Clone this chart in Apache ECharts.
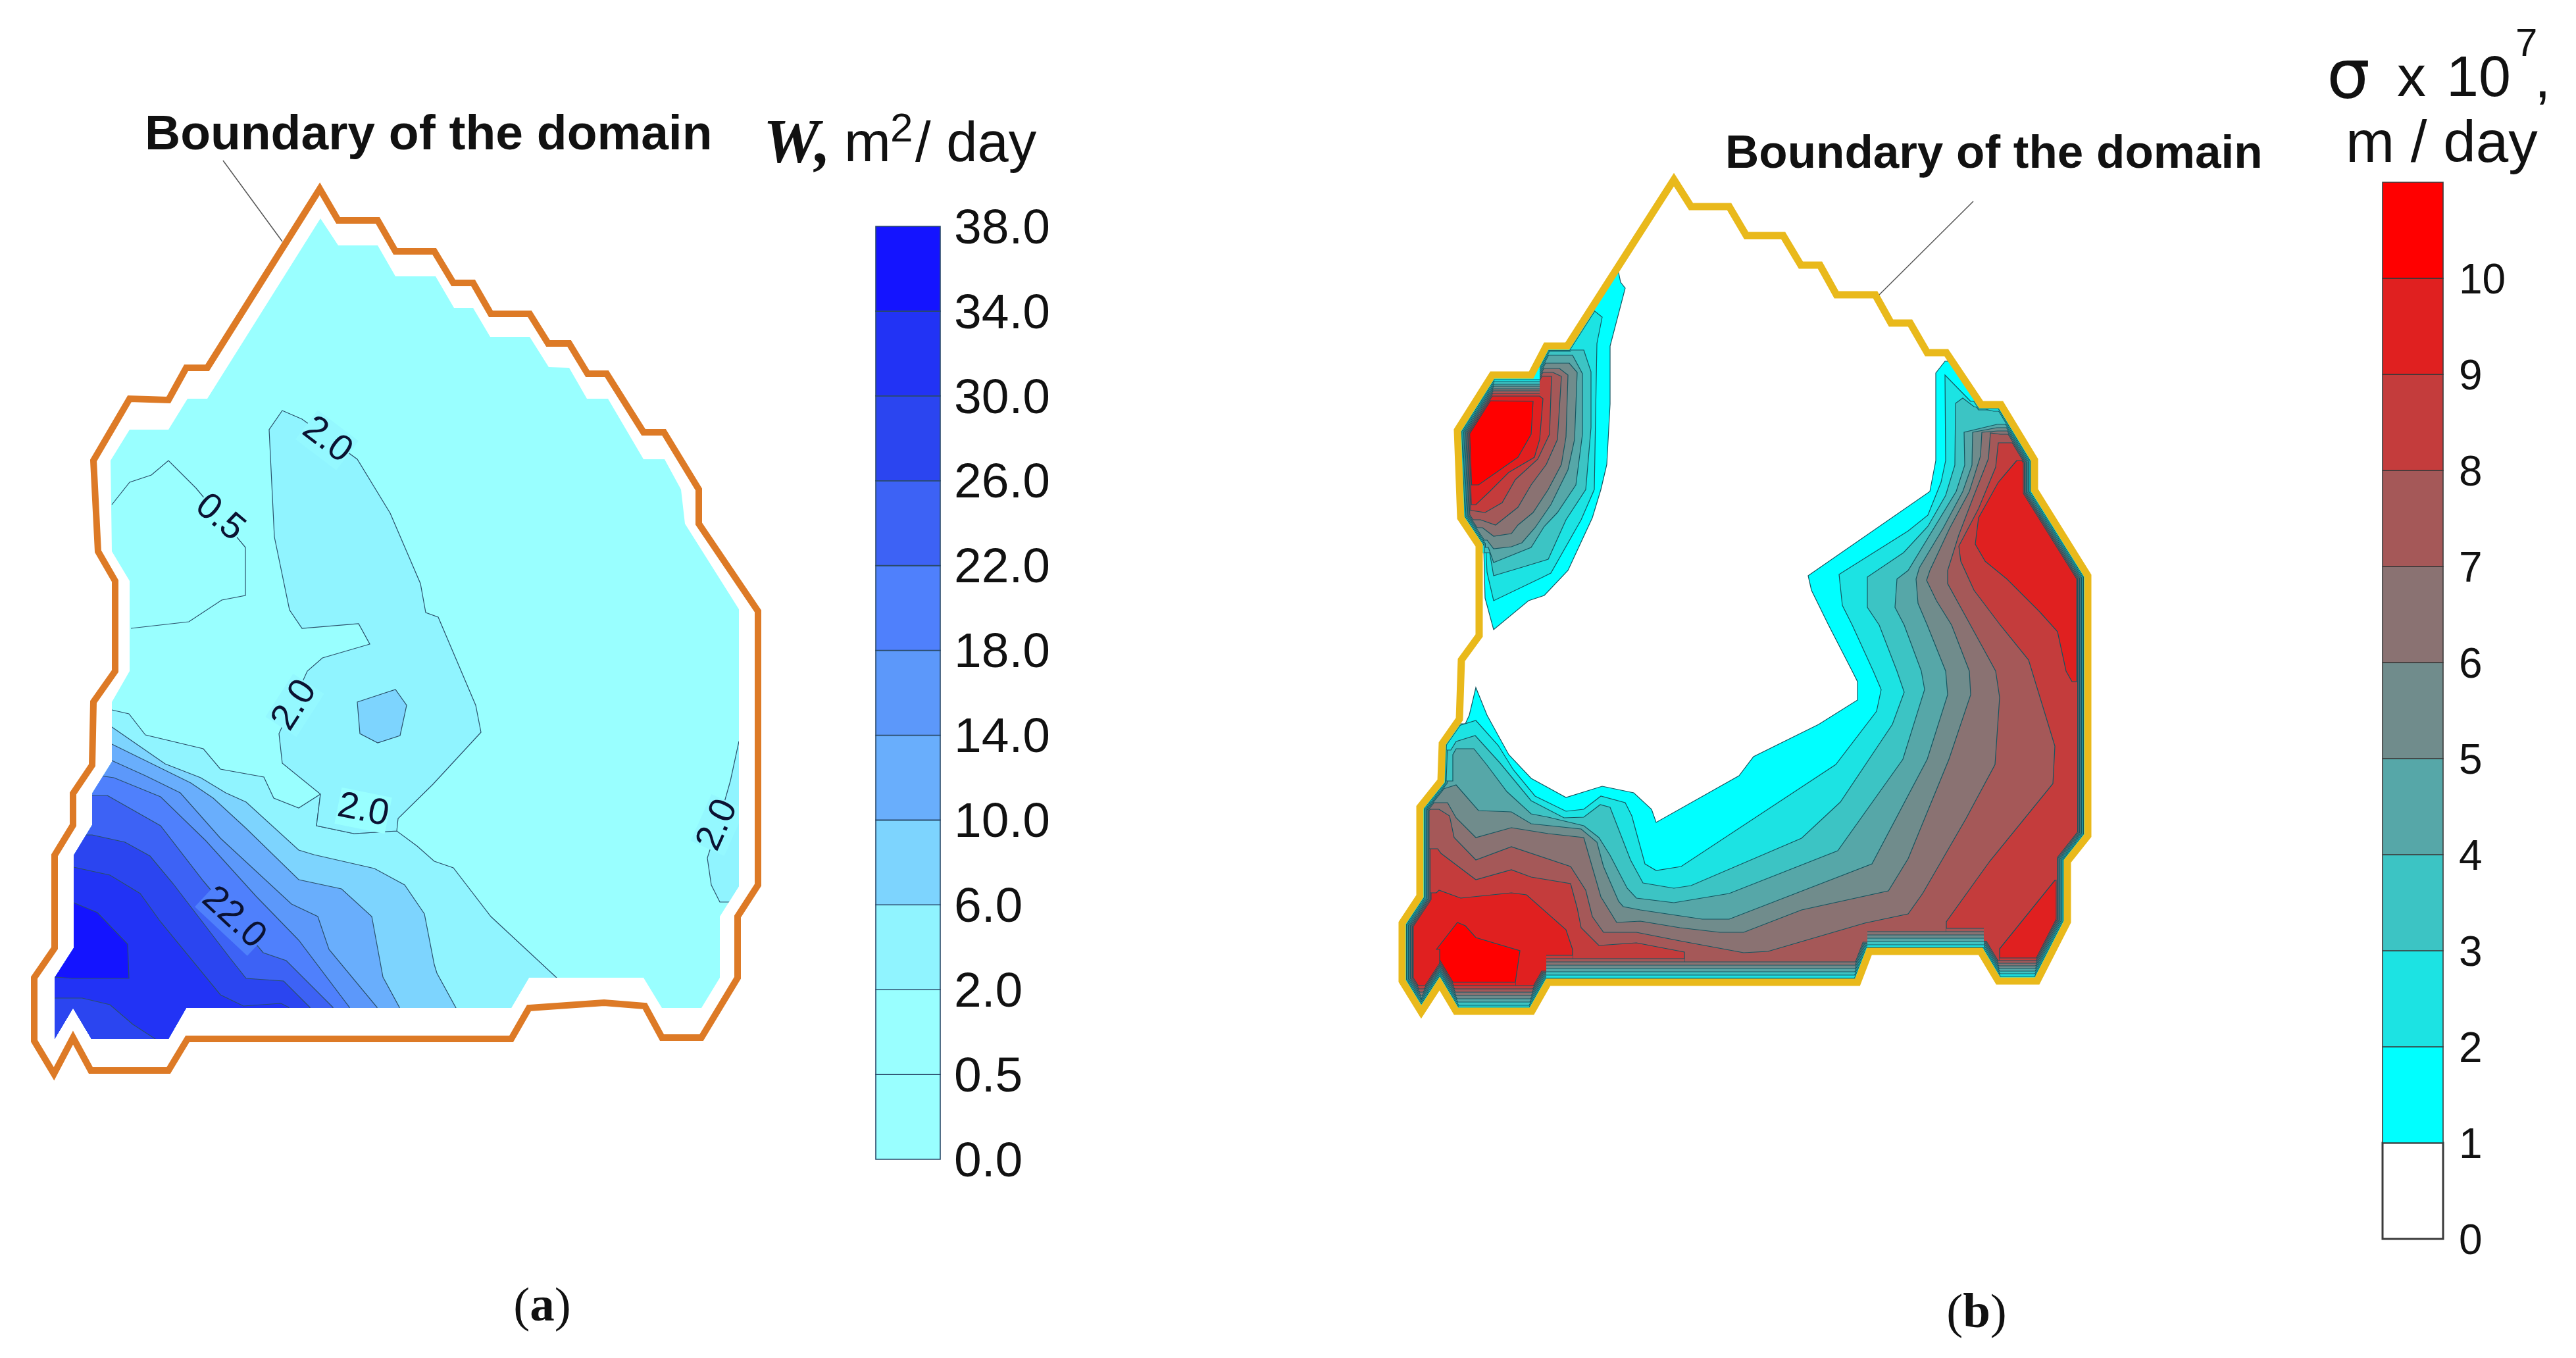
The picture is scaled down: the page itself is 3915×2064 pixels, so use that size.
<!DOCTYPE html>
<html>
<head>
<meta charset="utf-8">
<style>
  html, body { margin: 0; padding: 0; background: #fff; }
  #chart { width: 3915px; height: 2064px; }
</style>
<script src="https://cdn.jsdelivr.net/npm/echarts@6/dist/echarts.min.js"></script>
</head>
<body>
<div id="chart"></div>
<script>

// (a) transmissivity W
const wTicks = ['0.0', '0.5', '2.0', '6.0', '10.0', '14.0', '18.0', '22.0', '26.0', '30.0', '34.0', '38.0']
const wColors = ['#99ffff', '#99ffff', '#90f4ff', '#7dd4fe', '#69aefc', '#5c98fa', '#4f80fc', '#3d62f5', '#2b45f0', '#2233f5', '#1414ff']

const wBoundary = [[486,287],[514,335],[574,335],[601,382],[660,382],[689,430],[719,430],[746,477],[805,477],[833,522],[865,522],[893,568],[922,568],[978,657],[1009,657],[1062,744],[1062,796],[1152,929],[1152,1345],[1121,1393],[1121,1486],[1066,1577],[1006,1577],[980,1529],[918,1524],[804,1532],[777,1579],[285,1579],[256,1627],[138,1627],[111,1577],[82,1632],[52,1582],[52,1486],[83,1441],[83,1300],[111,1254],[111,1206],[140,1163],[142,1067],[175,1020],[175,883],[149,838],[142,700],[197,606],[256,608],[283,559],[315,559]]
const wDomain = [[487,332],[514,373],[574,373],[601,420],[662,420],[690,468],[719,468],[745,512],[805,512],[834,558],[865,559],[892,606],[924,606],[978,698],[1010,698],[1035,744],[1041,796],[1123,926],[1123,1347],[1094,1393],[1094,1486],[1066,1532],[1006,1532],[978,1486],[804,1486],[777,1532],[283,1532],[256,1579],[139,1579],[111,1532],[83,1579],[83,1486],[112,1441],[112,1300],[140,1254],[140,1206],[170,1158],[170,1067],[197,1020],[197,883],[170,838],[168,700],[197,653],[256,653],[285,606],[315,606]]

const wLevel2South = [[170,1079],[196,1085],[221,1117],[309,1138],[335,1169],[401,1181],[416,1213],[454,1228],[487,1207],[481,1255],[538,1267],[603,1263],[634,1286],[660,1309],[689,1319],[746,1393],[846,1486],[846,1700],[0,1700],[0,1079]]
const wLevel2North = [[429,624],[459,637],[543,698],[593,780],[639,887],[647,931],[666,938],[723,1072],[731,1113],[658,1192],[605,1244],[603,1263],[538,1267],[481,1255],[487,1207],[429,1160],[424,1115],[467,1020],[490,1000],[562,979],[545,948],[459,955],[440,927],[417,816],[409,653]]
const wLevel2East = [[1123,1127],[1110,1187],[1091,1254],[1075,1304],[1081,1345],[1094,1371],[1200,1371],[1200,1127]]
const wLevel6Core = [[543,1067],[601,1048],[618,1072],[608,1118],[574,1129],[547,1115]]
const wLevel6 = [[170,1105],[251,1161],[305,1182],[343,1205],[374,1219],[454,1292],[477,1299],[569,1320],[615,1345],[645,1389],[660,1466],[664,1479],[693,1532],[693,1700],[0,1700],[0,1105]]
const wLevel10 = [[170,1131],[221,1156],[290,1190],[324,1213],[374,1259],[454,1337],[519,1351],[565,1393],[582,1485],[607,1531],[607,1700],[0,1700],[0,1131]]
const wLevel14 = [[170,1156],[221,1179],[274,1205],[335,1274],[443,1374],[483,1393],[500,1443],[573,1531],[573,1700],[0,1700],[0,1156]]
const wLevel18 = [[152,1179],[173,1182],[244,1211],[313,1278],[389,1362],[454,1429],[531,1531],[531,1700],[0,1700],[0,1179]]
const wLevel22 = [[163,1209],[244,1255],[309,1339],[400,1448],[435,1460],[506,1531],[506,1700],[0,1700],[0,1209]]
const wLevel26 = [[140,1269],[190,1280],[228,1301],[263,1343],[351,1458],[374,1487],[431,1491],[471,1531],[471,1700],[0,1700],[0,1269]]
const wLevel30 = [[112,1318],[167,1330],[213,1358],[244,1401],[335,1512],[370,1529],[427,1525],[439,1531],[439,1700],[0,1700],[0,1318]]
const wLevel34 = [[112,1372],[148,1387],[194,1435],[196,1487],[110,1487],[83,1485],[0,1485],[0,1372]]
const wPocket26 = [[83,1517],[125,1517],[167,1527],[202,1557],[236,1579],[236,1700],[0,1700],[0,1517]]
const wContour05 = [[170,767],[197,733],[230,722],[256,700],[298,742],[373,832],[373,905],[337,912],[287,945],[199,955]]
const wLeader = [[339,244],[429,367]]

const wLabelTexts = ['2.0', '0.5', '2.0', '2.0', '22.0', '2.0']
const wLabelSpots = [[497,669],[334,787],[448,1072],[552,1232],[355,1395],[1091,1254]]
const wLabelAngles = [-0.65, -0.7, 1.0, -0.2, -0.75, 1.15]
const wLabelBacks = ['#94f8ff', '#99ffff', '#94f8ff', '#99ffff', '#4f80fc', '#94f8ff']

// (b) leakage sigma
const sTicks = ['0', '1', '2', '3', '4', '5', '6', '7', '8', '9', '10', '']
const sColors = ['#ffffff', '#00ffff', '#1ce3e3', '#3cc4c4', '#56a7a8', '#708c8c', '#8a7272', '#a55858', '#c43c3c', '#e02020', '#ff0000']

const sBoundary = [[2544,273],[2570,314],[2628,314],[2654,358],[2710,358],[2737,403],[2766,403],[2791,448],[2850,448],[2874,491],[2903,491],[2929,536],[2958,536],[3011,615],[3041,615],[3092,699],[3092,745],[3173,875],[3173,1270],[3142,1309],[3142,1401],[3096,1491],[3037,1491],[3010,1446],[2841,1446],[2823,1493],[2353,1493],[2328,1537],[2213,1537],[2188,1495],[2160,1538],[2131,1491],[2131,1403],[2158,1362],[2158,1227],[2190,1187],[2192,1130],[2218,1093],[2221,1003],[2248,966],[2248,829],[2220,787],[2215,654],[2268,570],[2327,570],[2350,526],[2382,526]]

const nwLevel1 = [[2463,429],[2470,438],[2447,526],[2447,614],[2442,706],[2433,744],[2420,787],[2383,867],[2347,905],[2323,913],[2270,957],[2257,909],[2255,832],[2100,832],[2100,390],[2455,390]]
const nwLevel2 = [[2435,482],[2427,522],[2425,630],[2423,744],[2403,790],[2357,871],[2343,878],[2270,913],[2260,870],[2258,829],[2100,829],[2100,470],[2420,470]]
const nwLevel3 = [[2407,532],[2418,565],[2418,650],[2410,744],[2380,790],[2353,850],[2317,861],[2270,875],[2264,840],[2100,840],[2100,532]]
const nwLevel4 = [[2390,540],[2405,568],[2405,660],[2395,737],[2367,779],[2347,800],[2327,832],[2270,855],[2262,832],[2100,832],[2100,540]]
const nwLevel5 = [[2397,566],[2393,668],[2383,714],[2357,767],[2333,802],[2313,825],[2297,831],[2270,834],[2260,821],[2100,821],[2100,552],[2385,552]]
const nwLevel6 = [[2383,570],[2380,664],[2373,706],[2353,744],[2330,779],[2307,798],[2297,811],[2270,815],[2253,802],[2100,802],[2100,560],[2370,560]]
const nwLevel7 = [[2373,572],[2367,668],[2350,706],[2327,737],[2307,771],[2273,798],[2250,790],[2100,790],[2100,566],[2360,566]]
const nwLevel8 = [[2358,572],[2355,660],[2337,698],[2303,729],[2283,764],[2257,779],[2230,775],[2100,775],[2100,570]]
const nwLevel9 = [[2345,606],[2340,668],[2332,695],[2293,718],[2263,748],[2243,767],[2100,767],[2100,602],[2340,602]]
const nwLevel10 = [[2330,610],[2327,660],[2307,695],[2247,737],[2100,737],[2100,607]]

const mainLevel1 = [[2956,549],[2942,567],[2942,700],[2933,747],[2748,875],[2753,897],[2779,950],[2815,1020],[2823,1036],[2823,1064],[2764,1101],[2665,1150],[2643,1179],[2517,1250],[2510,1230],[2483,1205],[2435,1195],[2380,1212],[2327,1183],[2293,1147],[2260,1087],[2243,1045],[2233,1087],[2227,1100],[2100,1100],[2100,1650],[3300,1650],[3300,549]]
const mainLevel2 = [[2995,610],[2956,570],[2957,700],[2950,733],[2930,783],[2900,807],[2795,873],[2800,920],[2815,950],[2847,1020],[2859,1048],[2852,1081],[2790,1162],[2555,1317],[2517,1323],[2500,1313],[2480,1240],[2470,1220],[2433,1210],[2407,1230],[2380,1233],[2333,1210],[2300,1170],[2277,1133],[2243,1095],[2217,1103],[2210,1110],[2100,1110],[2100,1650],[3300,1650],[3300,610]]
const mainLevel3 = [[3030,625],[3000,618],[2983,605],[2972,613],[2971,707],[2957,753],[2930,800],[2893,840],[2838,877],[2838,923],[2856,950],[2883,1020],[2894,1052],[2876,1101],[2797,1219],[2738,1274],[2570,1346],[2544,1350],[2497,1342],[2478,1307],[2447,1227],[2432,1223],[2407,1242],[2377,1243],[2327,1217],[2280,1160],[2242,1118],[2213,1127],[2205,1140],[2100,1140],[2100,1650],[3300,1650],[3300,625]]
const mainLevel4 = [[3035,645],[2985,657],[2986,707],[2973,747],[2900,867],[2883,880],[2880,923],[2894,950],[2920,1020],[2925,1048],[2892,1154],[2793,1293],[2628,1358],[2544,1372],[2487,1365],[2473,1350],[2447,1300],[2430,1273],[2407,1255],[2353,1242],[2327,1237],[2290,1203],[2260,1163],[2240,1138],[2213,1138],[2208,1147],[2208,1187],[2100,1187],[2100,1650],[3300,1650],[3300,645]]
const mainLevel5 = [[3035,650],[2998,657],[2997,707],[2983,747],[2953,803],[2917,863],[2912,880],[2915,917],[2929,950],[2957,1020],[2960,1056],[2929,1154],[2845,1313],[2628,1397],[2587,1397],[2493,1383],[2467,1378],[2460,1370],[2437,1317],[2427,1280],[2403,1260],[2327,1252],[2297,1234],[2247,1232],[2213,1193],[2197,1198],[2100,1198],[2100,1650],[3300,1650],[3300,650]]
const mainLevel6 = [[3036,655],[3012,657],[3010,693],[2993,747],[2963,803],[2933,867],[2928,882],[2943,913],[2966,950],[2993,1020],[2995,1056],[2962,1154],[2900,1305],[2870,1354],[2738,1383],[2650,1417],[2614,1417],[2553,1410],[2493,1400],[2457,1402],[2433,1363],[2407,1273],[2353,1267],[2297,1258],[2243,1273],[2213,1243],[2200,1220],[2100,1220],[2100,1650],[3300,1650],[3300,655]]
const mainLevel7 = [[3040,660],[3025,658],[3022,697],[3000,753],[2977,813],[2960,867],[2960,887],[2993,947],[3033,1020],[3039,1060],[3032,1162],[2988,1244],[2922,1358],[2900,1389],[2834,1403],[2687,1446],[2650,1448],[2553,1430],[2487,1417],[2437,1417],[2420,1393],[2410,1353],[2387,1317],[2297,1287],[2243,1307],[2210,1273],[2203,1240],[2187,1230],[2100,1230],[2100,1650],[3300,1650],[3300,660]]
const mainLevel8 = [[3060,673],[3037,673],[3033,710],[3007,773],[2977,830],[2980,853],[3000,897],[3040,950],[3083,1003],[3123,1134],[3120,1191],[3024,1309],[2958,1401],[2958,1650],[3300,1650],[3300,673]]
const westLevel8 = [[2560,1447],[2487,1433],[2430,1437],[2403,1410],[2397,1380],[2387,1343],[2327,1333],[2297,1322],[2243,1337],[2190,1297],[2185,1290],[2100,1290],[2100,1650],[2560,1650]]
const mainLevel9 = [[3065,700],[3037,733],[3007,787],[3002,827],[3017,853],[3050,880],[3100,930],[3127,960],[3140,1020],[3149,1036],[3300,1036],[3300,700]]
const southEastLevel9 = [[3123,1338],[3039,1442],[3039,1650],[3300,1650],[3300,1338]]
const westLevel9 = [[2390,1443],[2380,1413],[2320,1360],[2297,1357],[2220,1365],[2187,1353],[2183,1357],[2100,1357],[2100,1650],[2390,1650]]
const westLevel10 = [[2183,1443],[2215,1402],[2227,1407],[2243,1425],[2310,1445],[2303,1493],[2303,1650],[2188,1650],[2188,1443]]

// tight contours along the edge of the domain, level 1 to 9
const rimHalfWidths = [6, 7.5, 9, 10.5, 12, 13.5, 15, 16.5, 18]
const rimSouthWest = [1533, 1528, 1523, 1518, 1513, 1508, 1503, 1498, 1493]
const rimSouth = [1487, 1482, 1477, 1472, 1467, 1462, 1457, 1452, 1447]
const rimStep = [1441, 1436, 1431, 1426, 1421, 1416, 1411, 1406, 1401]
const rimSouthEast = [1484, 1480, 1476, 1472, 1468, 1464, 1460, 1456, 1452]
const rimNorthWest = [577, 580, 584, 587, 591, 594, 598, 601, 604]
const sLeader = [[2999,306],[2852,452]]

const wLayers = [
  { color: wColors[2], parts: [wLevel2South, wLevel2North, wLevel2East] },
  { color: wColors[3], parts: [wLevel6Core, wLevel6] },
  { color: wColors[4], parts: [wLevel10] },
  { color: wColors[5], parts: [wLevel14] },
  { color: wColors[6], parts: [wLevel18] },
  { color: wColors[7], parts: [wLevel22] },
  { color: wColors[8], parts: [wLevel26] },
  { color: wColors[9], parts: [wLevel30] },
  { color: wColors[10], parts: [wLevel34] },
  { color: wColors[8], parts: [wPocket26] },
]

const sParts = [
  null,
  [nwLevel1, mainLevel1],
  [nwLevel2, mainLevel2],
  [nwLevel3, mainLevel3],
  [nwLevel4, mainLevel4],
  [nwLevel5, mainLevel5],
  [nwLevel6, mainLevel6],
  [nwLevel7, mainLevel7],
  [nwLevel8, mainLevel8, westLevel8],
  [nwLevel9, mainLevel9, southEastLevel9, westLevel9],
  [nwLevel10, westLevel10],
]

const chart = echarts.init(document.getElementById('chart'))
const lineColor = '#2a4f6a'
const rimLine = '#145560'

function px(api, path) {
  return path.map(p => api.coord(p))
}

function polygon(points, style, clip) {
  const el = { type: 'polygon', shape: { points }, style }
  if (clip) el.clipPath = { type: 'polygon', shape: { points: clip } }
  return el
}

function renderW(params, api) {
  const i = params.dataIndex
  const clipPath = { type: 'polygon', shape: { points: px(api, wDomain) } }
  if (i === 0) {
    return { type: 'group', children: [polygon(px(api, wDomain), { fill: wColors[0] })] }
  }
  if (i <= wLayers.length) {
    const layer = wLayers[i - 1]
    return {
      type: 'group',
      clipPath,
      children: layer.parts.map(p => polygon(px(api, p), { fill: layer.color, stroke: lineColor, lineWidth: 1.2 })),
    }
  }
  if (i === wLayers.length + 1) {
    return {
      type: 'group',
      children: [
        { type: 'polyline', shape: { points: px(api, wContour05) }, style: { fill: null, stroke: lineColor, lineWidth: 1.2 } },
        { type: 'polyline', shape: { points: px(api, wLeader) }, style: { fill: null, stroke: '#555', lineWidth: 1.5 } },
        polygon(px(api, wBoundary), { fill: null, stroke: '#dd7a26', lineWidth: 10, lineJoin: 'miter' }),
      ],
    }
  }
  const children = wLabelTexts.map((text, k) => {
    const pos = api.coord(wLabelSpots[k])
    return {
      type: 'text',
      x: pos[0],
      y: pos[1],
      rotation: wLabelAngles[k],
      style: {
        text,
        fontFamily: 'Liberation Sans',
        fontSize: 56,
        fill: '#0b1232',
        align: 'center',
        verticalAlign: 'middle',
        backgroundColor: wLabelBacks[k],
      },
    }
  })
  return { type: 'group', clipPath, children }
}

function rimPatch(api, x0, x1, edge, far, v, part) {
  const top = [[x0, edge], [x1, edge]]
  const rect = [[x0, edge], [x1, edge], [x1, far], [x0, far]]
  const clip = px(api, part)
  return [
    polygon(px(api, rect), { fill: sColors[v] }, clip),
    {
      type: 'polyline',
      shape: { points: px(api, top) },
      style: { fill: null, stroke: rimLine, lineWidth: 1.2 },
      clipPath: { type: 'polygon', shape: { points: clip } },
    },
  ]
}

function renderS(params, api) {
  const i = params.dataIndex
  const boundary = px(api, sBoundary)
  const clipPath = { type: 'polygon', shape: { points: boundary } }
  if (i < 10) {
    const level = i + 1
    return {
      type: 'group',
      clipPath,
      children: sParts[level].map(p => polygon(px(api, p), { fill: sColors[level], stroke: rimLine, lineWidth: 1.2 })),
    }
  }
  if (i < 19) {
    // level 9 first, lower levels paint over it towards the edge
    const v = 19 - i
    const children = []
    const w = 2 * rimHalfWidths[v - 1]
    sParts[v + 1].forEach(part => {
      const clip = px(api, part)
      children.push(polygon(boundary, { fill: null, stroke: rimLine, lineWidth: w + 2 }, clip))
      children.push(polygon(boundary, { fill: null, stroke: sColors[v], lineWidth: w }, clip))
      children.push(...rimPatch(api, 2100, 2340, rimSouthWest[v - 1], 1700, v, part))
      children.push(...rimPatch(api, 2350, 2838, rimSouth[v - 1], 1700, v, part))
      children.push(...rimPatch(api, 2838, 3015, rimStep[v - 1], 1700, v, part))
      children.push(...rimPatch(api, 3015, 3130, rimSouthEast[v - 1], 1700, v, part))
      children.push(...rimPatch(api, 2230, 2340, rimNorthWest[v - 1], 500, v, part))
    })
    return { type: 'group', clipPath, children }
  }
  return {
    type: 'group',
    children: [
      { type: 'polyline', shape: { points: px(api, sLeader) }, style: { fill: null, stroke: '#555', lineWidth: 1.5 } },
      polygon(boundary, { fill: null, stroke: '#e9b91b', lineWidth: 11, lineJoin: 'miter' }),
    ],
  }
}

function legendBars(colors, stroke) {
  return function (params, api) {
    const i = params.dataIndex
    const a = api.coord([0, i + 1])
    const b = api.coord([1, i])
    return {
      type: 'rect',
      shape: { x: a[0], y: a[1], width: b[0] - a[0], height: b[1] - a[1] },
      style: { fill: colors[i], stroke, lineWidth: i === 0 && colors[0] === '#ffffff' ? 3 : 1.6 },
    }
  }
}

function tickLabel(fontSize, margin) {
  return {
    interval: 0,
    margin,
    formatter: v => '{t|' + v + '}',
    rich: { t: { fontSize, fontFamily: sans, color: '#111', padding: [10, 0, 0, 0] } },
  }
}

function text(x, y, str, fontSize, fontFamily, extra) {
  return {
    type: 'text',
    x,
    y,
    style: Object.assign({ text: str, fontSize, fontFamily, fill: '#111', verticalAlign: 'middle' }, extra),
  }
}

const sans = 'Liberation Sans'
const serif = 'Liberation Serif'

function caption(x, y, letter) {
  return {
    type: 'text',
    x,
    y,
    style: {
      text: '{r|(}{b|' + letter + '}{r|)}',
      align: 'center',
      verticalAlign: 'middle',
      rich: {
        r: { fontSize: 75, fontFamily: serif, fill: '#111' },
        b: { fontSize: 75, fontFamily: serif, fontWeight: 'bold', fill: '#111' },
      },
    },
  }
}

chart.setOption({
  animation: false,
  backgroundColor: '#fff',
  grid: [
    { left: 0, top: 0, width: 1300, height: 1800 },
    { left: 2000, top: 0, width: 1400, height: 1800 },
    { left: 1331, top: 344, width: 98, height: 1418 },
    { left: 3621, top: 277, width: 92, height: 1606 },
  ],
  xAxis: [
    { type: 'value', gridIndex: 0, min: 0, max: 1300, show: false },
    { type: 'value', gridIndex: 1, min: 2000, max: 3400, show: false },
    { type: 'value', gridIndex: 2, min: 0, max: 1, show: false },
    { type: 'value', gridIndex: 3, min: 0, max: 1, show: false },
  ],
  yAxis: [
    { type: 'value', gridIndex: 0, min: 0, max: 1800, inverse: true, show: false },
    { type: 'value', gridIndex: 1, min: 0, max: 1800, inverse: true, show: false },
    {
      type: 'category', gridIndex: 2, data: wTicks, boundaryGap: false, position: 'right',
      axisLine: { show: false }, axisTick: { show: false }, splitLine: { show: false },
      axisLabel: tickLabel(75, 21),
    },
    {
      type: 'category', gridIndex: 3, data: sTicks, boundaryGap: false, position: 'right',
      axisLine: { show: false }, axisTick: { show: false }, splitLine: { show: false },
      axisLabel: tickLabel(64, 24),
    },
  ],
  series: [
    {
      type: 'custom', coordinateSystem: 'cartesian2d', xAxisIndex: 0, yAxisIndex: 0,
      renderItem: renderW,
      data: Array.from({ length: wLayers.length + 3 }, (_, i) => [i, i]),
    },
    {
      type: 'custom', coordinateSystem: 'cartesian2d', xAxisIndex: 1, yAxisIndex: 1,
      renderItem: renderS,
      data: Array.from({ length: 20 }, (_, i) => [i, i]),
    },
    {
      type: 'custom', coordinateSystem: 'cartesian2d', xAxisIndex: 2, yAxisIndex: 2,
      renderItem: legendBars(wColors, '#2a4a6a'),
      data: wColors.map((c, i) => [0, i]),
    },
    {
      type: 'custom', coordinateSystem: 'cartesian2d', xAxisIndex: 3, yAxisIndex: 3,
      renderItem: legendBars(sColors, '#3a3a3a'),
      data: sColors.map((c, i) => [0, i]),
    },
  ],
  graphic: [
    text(220, 206, 'Boundary of the domain', 75, sans, { fontWeight: 'bold' }),
    text(2622, 235, 'Boundary of the domain', 71, sans, { fontWeight: 'bold' }),
    text(1160, 222, 'W,', 96, serif, { fontWeight: 'bold', fontStyle: 'italic' }),
    text(1283, 222, 'm', 85, sans),
    text(1353, 198, '2', 62, sans),
    text(1391, 222, '/ day', 85, sans),
    text(3536, 122, 'σ', 104, 'DejaVu Sans'),
    text(3643, 122, 'x', 88, sans),
    text(3718, 122, '10', 88, sans),
    text(3823, 68, '7', 60, sans),
    text(3852, 124, ',', 88, sans),
    text(3565, 221, 'm / day', 89, sans),
    caption(824, 1988, 'a'),
    caption(3004, 1998, 'b'),
  ],
})
</script>
</body>
</html>
